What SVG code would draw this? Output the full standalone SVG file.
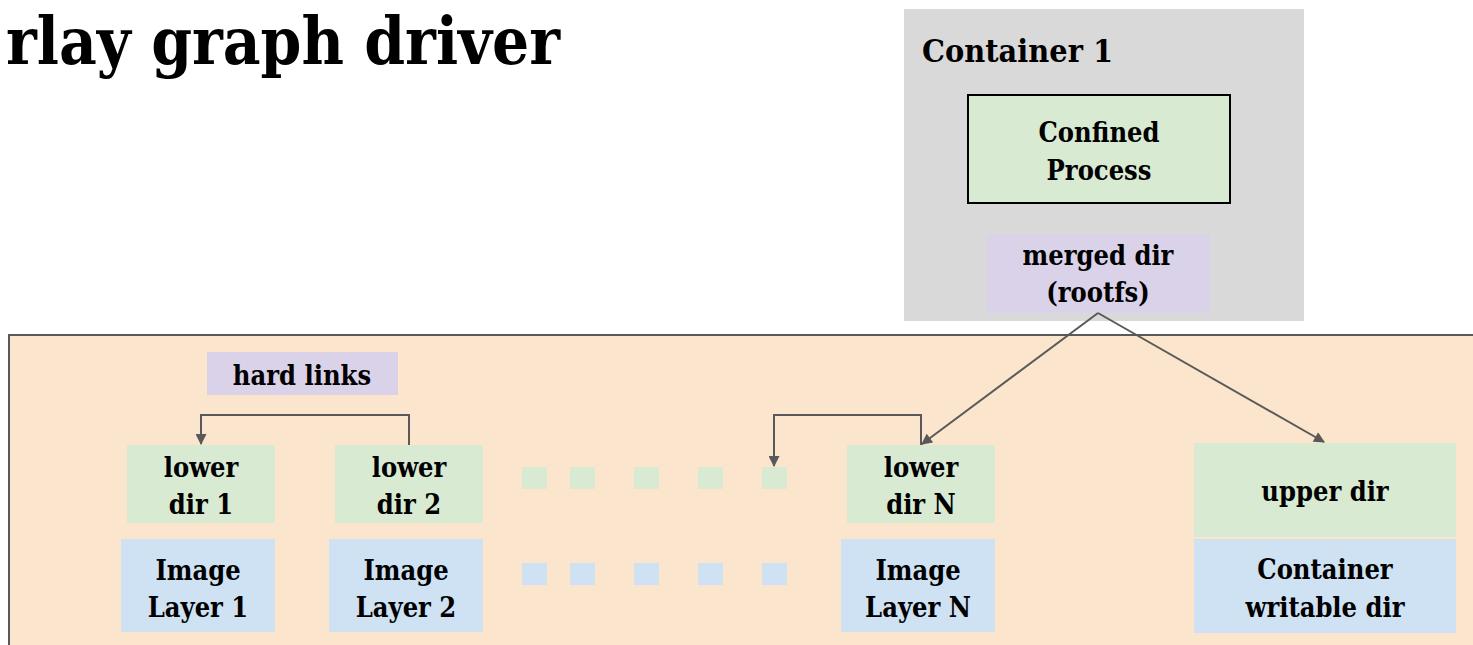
<svg xmlns="http://www.w3.org/2000/svg" width="1473" height="645" viewBox="0 0 1473 645">
<defs>
<style>
text{font-family:"DejaVu Serif Condensed","DejaVu Serif",serif;font-weight:bold;fill:#000;text-anchor:middle;font-size:27px}
.green{fill:#d9ead3}
.blue{fill:#cfe2f3}
.purple{fill:#d9d2e9}
.conn{fill:none;stroke:#595959;stroke-width:2}
</style>
<marker id="ah" viewBox="0 0 10 10" refX="9" refY="5" markerWidth="12" markerHeight="11" markerUnits="userSpaceOnUse" orient="auto">
<path d="M0,0 L10,5 L0,10 z" fill="#595959"/>
</marker>
</defs>
<rect width="1473" height="645" fill="#fff"/>
<text x="6" y="64" style="font-size:66px;text-anchor:start" textLength="554" lengthAdjust="spacingAndGlyphs">rlay graph driver</text>

<g id="overlay-area">
<rect x="9" y="335" width="1480" height="330" fill="#fce5cd" stroke="#595959" stroke-width="2"/>
</g>

<g id="container1">
<rect x="904" y="9" width="400" height="312" fill="#d9d9d9"/>
<text x="922" y="62" style="text-anchor:start;font-size:31px" textLength="191" lengthAdjust="spacingAndGlyphs">Container 1</text>
</g>
<g id="confined-process">
<rect x="968" y="95" width="262" height="108" class="green" stroke="#000" stroke-width="2"/>
<text x="1099" y="142">Confined</text>
<text x="1099" y="180">Process</text>
</g>
<g id="merged-dir">
<rect x="987" y="234" width="223" height="79" class="purple"/>
<text x="1098" y="265">merged dir</text>
<text x="1098" y="302">(rootfs)</text>
</g>
<g id="hard-links">
<rect x="207" y="352" width="191" height="43" class="purple"/>
<text x="302" y="385">hard links</text>
</g>
<g id="lower-dir-1">
<rect x="127" y="445" width="148" height="78" class="green"/>
<text x="201" y="477">lower</text>
<text x="201" y="514">dir 1</text>
</g>
<g id="lower-dir-2">
<rect x="335" y="445" width="148" height="78" class="green"/>
<text x="409" y="477">lower</text>
<text x="409" y="514">dir 2</text>
</g>
<g id="lower-dir-n">
<rect x="847" y="445" width="148" height="78" class="green"/>
<text x="921" y="477">lower</text>
<text x="921" y="514">dir N</text>
</g>
<g id="image-layer-1">
<rect x="121" y="539" width="154" height="93" class="blue"/>
<text x="198" y="580">Image</text>
<text x="198" y="617">Layer 1</text>
</g>
<g id="image-layer-2">
<rect x="329" y="539" width="154" height="93" class="blue"/>
<text x="406" y="580">Image</text>
<text x="406" y="617">Layer 2</text>
</g>
<g id="image-layer-n">
<rect x="841" y="539" width="154" height="93" class="blue"/>
<text x="918" y="580">Image</text>
<text x="918" y="617">Layer N</text>
</g>
<g id="upper-dir">
<rect x="1194" y="443" width="262" height="94" class="green"/>
<text x="1325" y="501">upper dir</text>
</g>
<g id="container-writable-dir">
<rect x="1194" y="539" width="262" height="94" class="blue"/>
<text x="1325" y="579">Container</text>
<text x="1325" y="617">writable dir</text>
</g>
<g id="dots-green">
<rect x="522" y="467" width="25" height="22" class="green"/>
<rect x="570" y="467" width="25" height="22" class="green"/>
<rect x="634" y="467" width="25" height="22" class="green"/>
<rect x="698" y="467" width="25" height="22" class="green"/>
<rect x="762" y="467" width="25" height="22" class="green"/>
</g>
<g id="dots-blue">
<rect x="522" y="563" width="25" height="22" class="blue"/>
<rect x="570" y="563" width="25" height="22" class="blue"/>
<rect x="634" y="563" width="25" height="22" class="blue"/>
<rect x="698" y="563" width="25" height="22" class="blue"/>
<rect x="762" y="563" width="25" height="22" class="blue"/>
</g>

<g id="connectors">
<path class="conn" d="M409,445 V415 H201 V444" marker-end="url(#ah)"/>
<path class="conn" d="M921,445 V415 H774 V466" marker-end="url(#ah)"/>
<path class="conn" d="M1098,313 L922,444" marker-end="url(#ah)"/>
<path class="conn" d="M1098,313 L1324,442" marker-end="url(#ah)"/>
</g>
</svg>
